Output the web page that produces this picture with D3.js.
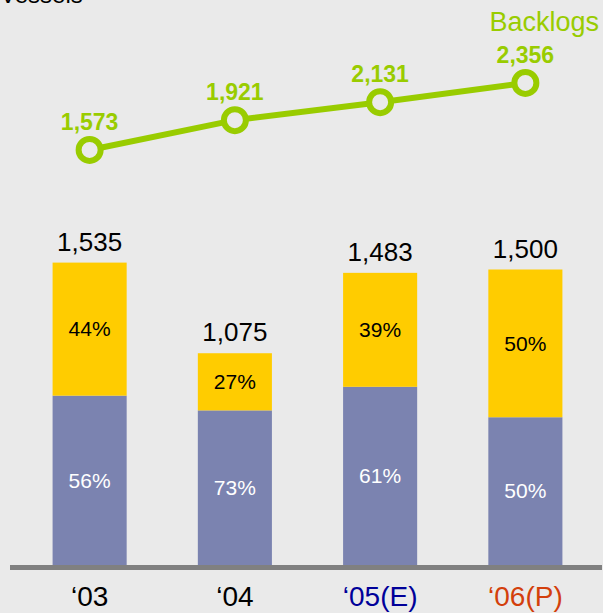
<!DOCTYPE html>
<html>
<head>
<meta charset="utf-8">
<script src="https://cdn.jsdelivr.net/npm/d3@7"></script>
<style>
  html, body { margin: 0; padding: 0; background: #eaeaea; }
  svg { display: block; font-family: Arial, "Liberation Sans", sans-serif; }
</style>
</head>
<body>
<div id="chart"></div>
<script>
const years = ['‘03', '‘04', '‘05(E)', '‘06(P)'];
const yearColors = ['#000000', '#000000', '#000099', '#d33f0c'];
const totals = [1535, 1075, 1483, 1500];
const lowerShare = [56, 73, 61, 50];   // purple part, %
const upperShare = [44, 27, 39, 50];   // yellow part, %
const backlogs = [1573, 1921, 2131, 2356];

const width = 603, height = 613;
const baseY = 565;
const green = '#99cc00';

const svg = d3.select('#chart')
  .append('svg')
  .attr('width', width)
  .attr('height', height);

svg.append('rect')
  .attr('width', width)
  .attr('height', height)
  .attr('fill', '#eaeaea');

// unit label, cut off at the top as in the source slide
svg.append('text')
  .attr('x', 0)
  .attr('y', 3)
  .attr('font-size', 24)
  .attr('fill', '#000')
  .text('Vessels');

const x = d3.scaleBand()
  .domain(years)
  .range([17, 598])
  .paddingInner(0.49)
  .paddingOuter(0.245);

const yBar = d3.scaleLinear()
  .domain([0, 1600])
  .range([baseY, baseY - 1600 * 0.197]);

const yLine = d3.scaleLinear()
  .domain([1500, 2400])
  .range([156.2, 79.2]);

const rows = years.map((yr, i) => ({
  yr, total: totals[i],
  low: totals[i] * lowerShare[i] / 100,
  lowPct: lowerShare[i], upPct: upperShare[i]
}));

const bars = svg.selectAll('.bar')
  .data(rows)
  .enter()
  .append('g')
  .attr('class', 'bar');

// purple lower part
bars.append('rect')
  .attr('x', d => x(d.yr))
  .attr('width', x.bandwidth())
  .attr('y', d => yBar(d.low))
  .attr('height', d => baseY - yBar(d.low))
  .attr('fill', '#7b83b0');

// yellow upper part
bars.append('rect')
  .attr('x', d => x(d.yr))
  .attr('width', x.bandwidth())
  .attr('y', d => yBar(d.total))
  .attr('height', d => yBar(d.low) - yBar(d.total))
  .attr('fill', '#ffcc00');

bars.append('text')
  .attr('x', d => x(d.yr) + x.bandwidth() / 2)
  .attr('y', d => (yBar(d.low) + baseY) / 2)
  .attr('dy', '0.35em')
  .attr('text-anchor', 'middle')
  .attr('font-size', 21)
  .attr('fill', '#ffffff')
  .text(d => d.lowPct + '%');

bars.append('text')
  .attr('x', d => x(d.yr) + x.bandwidth() / 2)
  .attr('y', d => (yBar(d.low) + yBar(d.total)) / 2)
  .attr('dy', '0.35em')
  .attr('text-anchor', 'middle')
  .attr('font-size', 21)
  .attr('fill', '#000000')
  .text(d => d.upPct + '%');

bars.append('text')
  .attr('x', d => x(d.yr) + x.bandwidth() / 2)
  .attr('y', d => yBar(d.total) - 12)
  .attr('text-anchor', 'middle')
  .attr('font-size', 26)
  .attr('fill', '#000000')
  .text(d => d3.format(',')(d.total));

// base line
svg.append('rect')
  .attr('x', 10)
  .attr('y', baseY)
  .attr('width', 592)
  .attr('height', 5)
  .attr('fill', '#808080');

// year labels
svg.selectAll('.yr')
  .data(years)
  .enter()
  .append('text')
  .attr('x', d => x(d) + x.bandwidth() / 2)
  .attr('y', 606)
  .attr('text-anchor', 'middle')
  .attr('font-size', 28)
  .attr('fill', (d, i) => yearColors[i])
  .text(d => d);

// backlog line
const pts = backlogs.map((v, i) => [x(years[i]) + x.bandwidth() / 2, yLine(v)]);

svg.append('path')
  .attr('d', d3.line()(pts))
  .attr('fill', 'none')
  .attr('stroke', green)
  .attr('stroke-width', 6);

svg.selectAll('.dot')
  .data(pts)
  .enter()
  .append('circle')
  .attr('cx', d => d[0])
  .attr('cy', d => d[1])
  .attr('r', 11)
  .attr('fill', '#eaeaea')
  .attr('stroke', green)
  .attr('stroke-width', 6);

svg.selectAll('.blabel')
  .data(backlogs)
  .enter()
  .append('text')
  .attr('x', (d, i) => pts[i][0])
  .attr('y', (d, i) => pts[i][1] - 20)
  .attr('text-anchor', 'middle')
  .attr('font-size', 23)
  .attr('font-weight', 'bold')
  .attr('fill', green)
  .text(d => d3.format(',')(d));

svg.append('text')
  .attr('x', 599)
  .attr('y', 31)
  .attr('text-anchor', 'end')
  .attr('font-size', 27)
  .attr('fill', green)
  .text('Backlogs');
</script>
</body>
</html>
